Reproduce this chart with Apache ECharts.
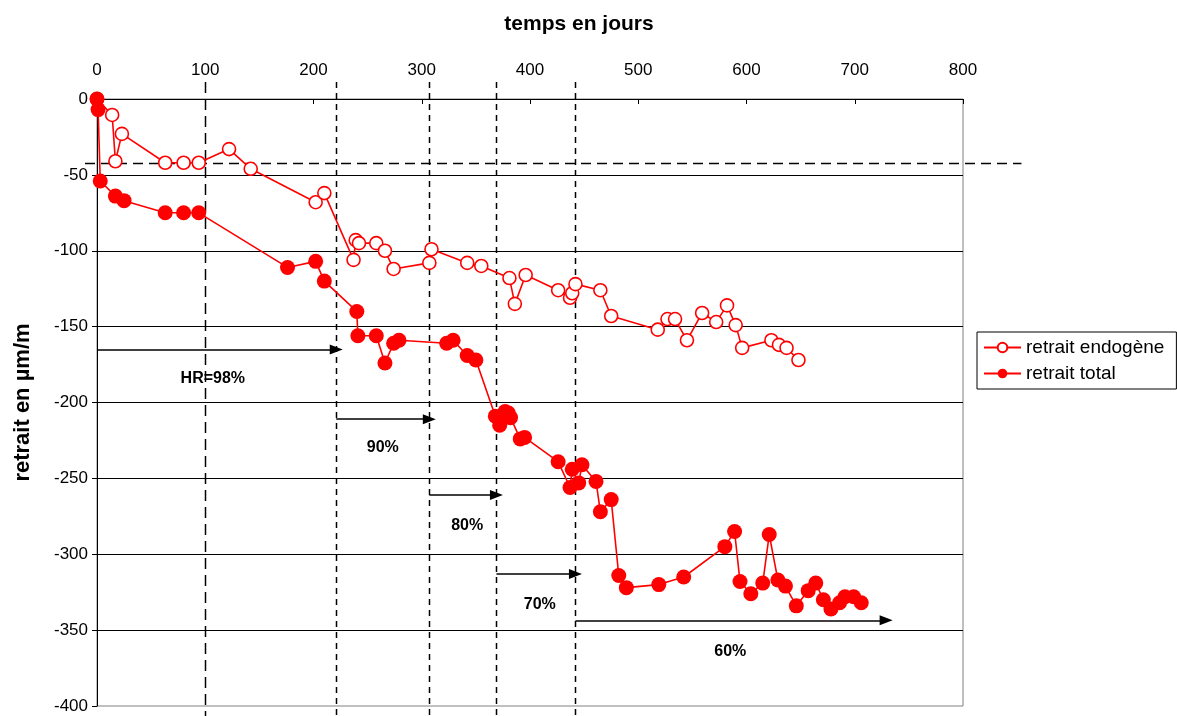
<!DOCTYPE html>
<html>
<head>
<meta charset="utf-8">
<script src="https://cdn.jsdelivr.net/npm/echarts@6/dist/echarts.min.js"></script>
<style>
  html, body { margin: 0; padding: 0; background: #ffffff; }
  #chart { width: 1177px; height: 716px; }
</style>
</head>
<body>
<div id="chart"></div>
<script>
// Retrait endogène (open circles): age in days and strain in µm/m
const endoDays = [0, 14, 17, 23, 63, 80, 94, 122, 142, 202, 210, 237, 239, 242, 258, 266, 274, 307, 309,
  342, 355, 381, 386, 396, 426, 437, 439, 442, 465, 475, 518, 527, 534, 545, 559, 572, 582, 590, 596,
  623, 630, 637, 648];
const endoVals = [0, -10.5, -41, -23, -42, -42, -42, -33, -46, -68, -62, -106, -93, -95, -95, -100, -112, -108, -99,
  -108, -110, -118, -135, -116, -126, -131, -128, -122, -126, -143, -152, -145, -145, -159, -141, -147, -136, -149, -164,
  -159, -162, -164, -172];

// Retrait total (filled circles)
const totalDays = [0, 1, 3, 17, 25, 63, 80, 94, 176, 202, 210, 240, 241, 258, 266, 274, 279, 323, 329, 342, 350,
  368, 372, 377, 380, 382, 391, 395, 426, 437, 439, 445, 448, 461, 465, 475, 482, 489, 519, 542, 580, 589,
  594, 604, 615, 621, 629, 636, 646, 657, 664, 671, 678, 686, 691, 699, 706];
const totalVals = [0, -7, -54, -64, -67, -75, -75, -75, -111, -107, -120, -140, -156, -156, -174, -161, -159, -161, -159, -169, -172,
  -209, -215, -206, -207, -210, -224, -223, -239, -256, -244, -253, -241, -252, -272, -264, -314, -322, -320, -315, -295, -285,
  -318, -326, -319, -287, -317, -321, -334, -324, -319, -330, -336, -332, -328, -328, -332];

// Humidity phases: boundaries (days), arrows and their captions
const phaseDays = [100, 221, 307, 369, 442];
const arrowStart = [0, 221, 307, 369, 442];
const arrowEnd = [221, 307, 369, 442, 729];
const arrowLevel = [-165, -211, -261, -313, -343.5];
const phaseText = ['HR=98%', '90%', '80%', '70%', '60%'];
const phaseTextDay = [107, 264, 342, 409, 585];
const phaseTextLevel = [-184, -230, -281, -333, -364];

// Horizontal reference level and its right-hand extent (days)
const refLevel = -42;
const refLineEnd = 854;

// Axis ticks
const xTicks = { min: 0, max: 800, step: 100 };
const yTicks = { min: -400, max: 0, step: 50 };

const FONT = '"Liberation Sans", Arial, sans-serif';
const RED = '#ff0000';

const chart = echarts.init(document.getElementById('chart'), null, { renderer: 'canvas' });

const zip = (a, b) => a.map((v, i) => [v, b[i]]);

const arrowLines = arrowStart.map((s, i) => [
  { coord: [s, arrowLevel[i]] },
  { coord: [arrowEnd[i], arrowLevel[i]] }
]);

const captions = phaseText.map((t, i) => [phaseTextDay[i], phaseTextLevel[i], t]);

chart.setOption({
  animation: false,
  backgroundColor: '#ffffff',
  title: {
    text: 'temps en jours',
    left: 574,
    top: 9,
    textAlign: 'center',
    textStyle: { fontFamily: FONT, fontSize: 21, fontWeight: 'bold', color: '#000' }
  },
  grid: {
    left: 97, top: 99, width: 866, height: 607,
    show: true, borderColor: '#808080', borderWidth: 1, backgroundColor: 'transparent'
  },
  legend: {
    data: ['retrait endogène', 'retrait total'],
    orient: 'vertical',
    left: 977,
    top: 332,
    padding: [6, 12, 6, 6],
    itemGap: 7,
    itemWidth: 37,
    itemHeight: 12,
    borderColor: '#000',
    borderWidth: 1,
    backgroundColor: '#fff',
    textStyle: { fontFamily: FONT, fontSize: 19, color: '#000' }
  },
  xAxis: {
    type: 'value',
    position: 'top',
    min: xTicks.min, max: xTicks.max, interval: xTicks.step,
    axisLine: { show: true, onZero: false, lineStyle: { color: '#000', width: 1 } },
    axisTick: { show: true, inside: true, length: 5, lineStyle: { color: '#000' } },
    axisLabel: { fontFamily: FONT, fontSize: 17, color: '#000', margin: 20 },
    splitLine: { show: false }
  },
  yAxis: {
    type: 'value',
    min: yTicks.min, max: yTicks.max, interval: yTicks.step,
    name: 'retrait en µm/m',
    nameLocation: 'middle',
    nameRotate: 90,
    nameGap: 63,
    nameTextStyle: { fontFamily: FONT, fontSize: 22, fontWeight: 'bold', color: '#000' },
    axisLine: { show: true, onZero: false, lineStyle: { color: '#000', width: 1 } },
    axisTick: { show: true, inside: false, length: 5, lineStyle: { color: '#000' } },
    axisLabel: { fontFamily: FONT, fontSize: 17, color: '#000', margin: 9 },
    splitLine: { show: true, showMinLine: false, lineStyle: { color: '#000', width: 1 } }
  },
  series: [
    {
      name: 'retrait endogène',
      type: 'line',
      data: zip(endoDays, endoVals),
      symbol: 'circle',
      symbolSize: 13,
      showAllSymbol: true,
      lineStyle: { color: RED, width: 1.6 },
      itemStyle: { color: '#ffffff', borderColor: RED, borderWidth: 1.6 },
      emphasis: { disabled: true },
      z: 3
    },
    {
      name: 'retrait total',
      type: 'line',
      data: zip(totalDays, totalVals),
      symbol: 'circle',
      symbolSize: 15,
      showAllSymbol: true,
      lineStyle: { color: RED, width: 1.6 },
      itemStyle: { color: RED, borderColor: RED, borderWidth: 0 },
      emphasis: { disabled: true },
      z: 4
    },
    {
      name: 'phases',
      type: 'scatter',
      data: captions,
      symbolSize: 0,
      silent: true,
      itemStyle: { opacity: 1 },
      label: {
        show: true,
        position: 'inside',
        formatter: p => p.value[2],
        fontFamily: FONT, fontSize: 16, fontWeight: 'bold', color: '#000', opacity: 1
      },
      markLine: {
        silent: true,
        symbol: ['none', 'triangle'],
        symbolSize: [10, 13],
        label: { show: false },
        lineStyle: { color: '#000', width: 1.6, type: 'solid', opacity: 1 },
        emphasis: { disabled: true },
        data: arrowLines
      },
      z: 5
    }
  ]
});

// Dashed phase boundaries and reference level, placed through the axis scales
const px = (d, v) => chart.convertToPixel({ xAxisIndex: 0, yAxisIndex: 0 }, [d, v]);
const topY = px(0, yTicks.max)[1];
const botY = px(0, yTicks.min)[1];
const graphics = phaseDays.map((d, i) => {
  const x = Math.round(px(d, 0)[0]) + 0.5;
  return {
    type: 'line',
    silent: true,
    z: 1,
    shape: { x1: x, y1: topY - 17, x2: x, y2: botY + 12 },
    style: {
      stroke: '#000',
      lineWidth: 1.5,
      lineDash: i === 0 ? [11, 6] : [6, 5]
    }
  };
});
const refY = Math.round(px(0, refLevel)[1]) + 0.5;
graphics.push({
  type: 'line',
  silent: true,
  z: 1,
  shape: { x1: px(0, refLevel)[0] - 12, y1: refY, x2: px(refLineEnd, refLevel)[0], y2: refY },
  style: { stroke: '#000', lineWidth: 1.5, lineDash: [10, 6] }
});
chart.setOption({ graphic: graphics });
</script>
</body>
</html>
